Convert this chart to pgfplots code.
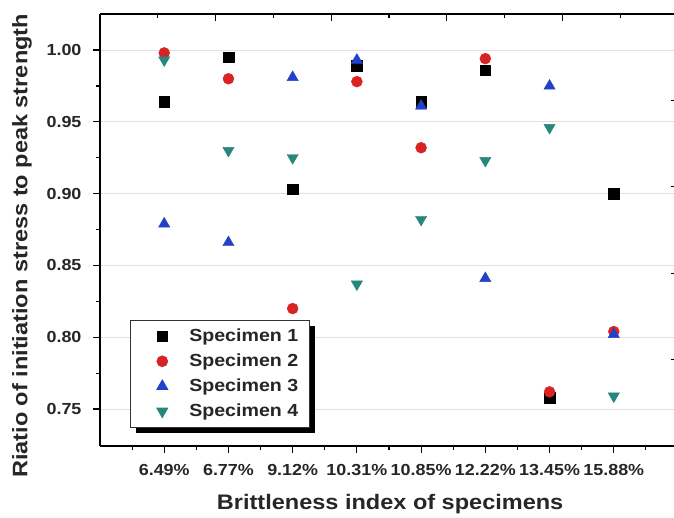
\documentclass[border=0pt]{standalone}
\usepackage{fontspec}
\setmainfont{Liberation Sans}[FakeStretch=1.12]
\usepackage{pgfplots}
\pgfplotsset{compat=1.18}
\usetikzlibrary{shadows}

\definecolor{sone}{RGB}{0,0,0}
\definecolor{stwo}{RGB}{215,35,35}
\definecolor{sthree}{RGB}{35,65,200}
\definecolor{sfour}{RGB}{40,135,125}

\begin{document}
\begin{tikzpicture}
\begin{axis}[
  at={(100pt,72pt)}, anchor=south west,
  scale only axis, width=578pt, height=432pt,
  xmin=0, xmax=9, ymin=0.7243, ymax=1.0251,
  axis x line*=bottom, axis y line*=left,
  axis line style={line width=1.4pt, -},
  xtick={1,2,3,4,5,6,7,8},
  xticklabels={6.49\%,6.77\%,9.12\%,10.31\%,10.85\%,12.22\%,13.45\%,15.88\%},
  minor xtick={0.5,1.5,2.5,3.5,4.5,5.5,6.5,7.5,8.5},
  ytick={0.75,0.80,0.85,0.90,0.95,1.00},
  minor ytick={0.775,0.825,0.875,0.925,0.975},
  tick align=outside,
  major tick length=7pt, minor tick length=4pt,
  every tick/.style={line width=1.2pt, black},
  ymajorgrids, major grid style={black!12, line width=0.8pt},
  /pgf/number format/assume math mode=true,
  yticklabel style={/pgf/number format/fixed, /pgf/number format/fixed zerofill, /pgf/number format/precision=2, xshift=-8pt},
  xticklabel style={yshift=-8pt},
  ticklabel style={font=\fontsize{16}{19}\selectfont\bfseries, text=black!85},
  xlabel={Brittleness index of specimens},
  ylabel={Riatio of initiation stress to peak strength},
  every axis x label/.style={at={(axis description cs:0.502,-0.134)}, anchor=center},
  every axis y label/.style={at={(axis description cs:-0.135,0.463)}, anchor=center, rotate=90},
  label style={font=\fontsize{21}{25}\selectfont\bfseries, text=black!85},
  legend style={at={(axis description cs:0.0519,0.2917)}, anchor=north west,
    draw=black!80, line width=0.6pt, fill=white,
    font=\fontsize{17.5}{21}\selectfont\bfseries, text=black!85,
    drop shadow={shadow xshift=6pt, shadow yshift=-6pt, fill=black, opacity=1},
    inner xsep=9pt, inner ysep=4.5pt, column sep=8pt, row sep=2pt,
    nodes={inner sep=2pt, text height=15pt, text depth=4pt}},
  legend cell align=left,
  legend image code/.code={%
    \pgfpathrectangle{\pgfpoint{0pt}{-5pt}}{\pgfpoint{40pt}{10pt}}%
    \pgfusepath{use as bounding box}%
    \draw[#1] plot coordinates {(23pt,0pt)};},
]
\addplot[only marks, mark=square*, mark size=5.3pt, mark options={draw=sone, fill=sone}]
  coordinates {(1,0.964) (2,0.995) (3,0.903) (4,0.989) (5,0.964) (6,0.986) (7,0.758) (8,0.900)};
\addlegendentry{Specimen 1}
\addplot[only marks, mark=*, mark size=5.5pt, mark options={draw=stwo, fill=stwo}]
  coordinates {(1,0.998) (2,0.980) (3,0.820) (4,0.978) (5,0.932) (6,0.994) (7,0.762) (8,0.804)};
\addlegendentry{Specimen 2}
\addplot[only marks, mark=triangle*, mark size=6.5pt, mark options={draw=sthree, fill=sthree}]
  coordinates {(1,0.879) (2,0.866) (3,0.981) (4,0.993) (5,0.961) (6,0.841) (7,0.975) (8,0.802)};
\addlegendentry{Specimen 3}
\addplot[only marks, mark=triangle*, mark size=6.5pt, mark options={draw=sfour, fill=sfour, rotate=180}]
  coordinates {(1,0.993) (2,0.930) (3,0.925) (4,0.837) (5,0.882) (6,0.923) (7,0.946) (8,0.759)};
\addlegendentry{Specimen 4}
\end{axis}
% frame on the top and right sides with its own tick spacing
\begin{axis}[
  at={(100pt,72pt)}, anchor=south west,
  scale only axis, width=578pt, height=432pt,
  xmin=0, xmax=5, ymin=0, ymax=5,
  axis x line*=top, axis y line*=right,
  axis line style={line width=1.4pt, -},
  xtick={0,1,2,3,4,5}, ytick={0,1,2,3,4,5},
  minor xtick={0.5,1.5,2.5,3.5,4.5}, minor ytick={0.5,1.5,2.5,3.5,4.5},
  xticklabels={}, yticklabels={},
  tick align=inside,
  major tick length=7pt, minor tick length=4pt,
  every tick/.style={line width=1.2pt, black},
]
\end{axis}
\pgfresetboundingbox
\useasboundingbox (0pt,0pt) rectangle (674pt,518pt);
\end{tikzpicture}
\end{document}
